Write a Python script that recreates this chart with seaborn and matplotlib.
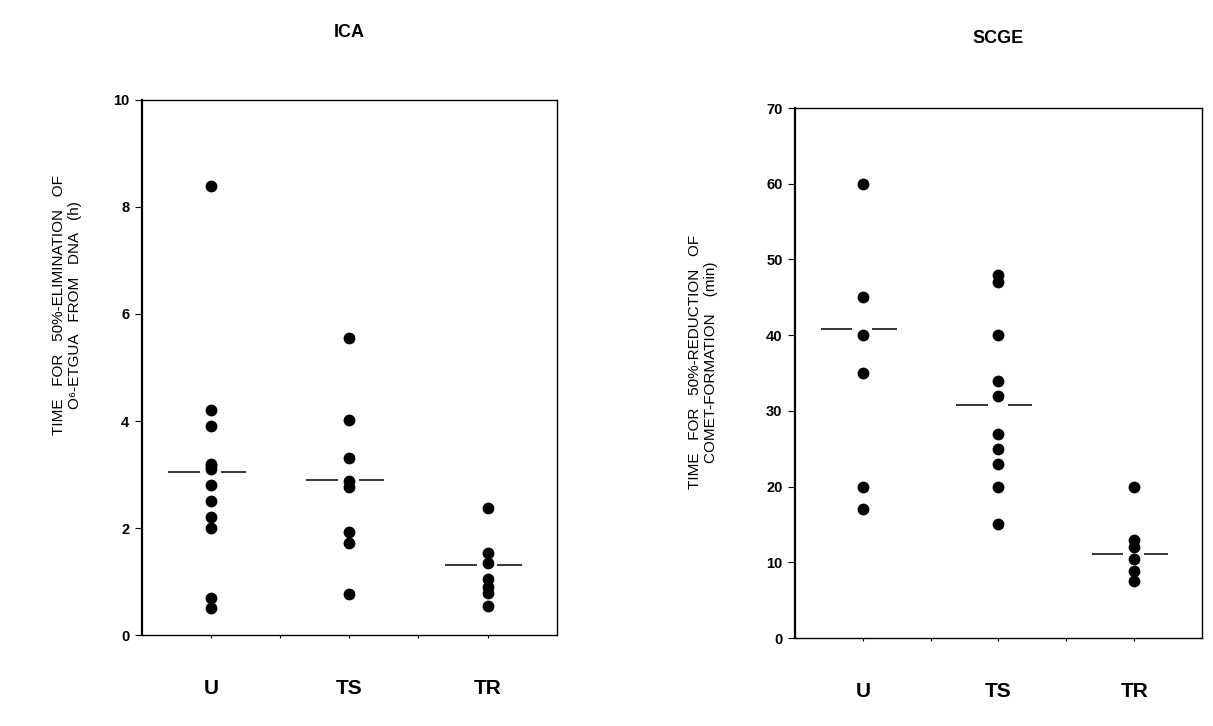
"""Half-life plots for ICA and SCGE: U, TS and TR groups with median bars.
"""
import matplotlib.pyplot as plt
import numpy as np
import pandas as pd
import seaborn as sns

# Groups on the x axis
groups = ["U", "TS", "TR"]

# ICA: time for 50% elimination of O6-EtGua from DNA (h)
ica_u = [8.4, 4.2, 3.9, 3.2, 3.15, 3.1, 2.8, 2.5, 2.2, 2.0, 0.7, 0.5]
ica_ts = [5.55, 4.02, 3.3, 2.88, 2.77, 1.92, 1.72, 0.77]
ica_tr = [2.37, 1.53, 1.35, 1.04, 0.9, 0.78, 0.55]
ica_lines = [3.05, 2.9, 1.3]

# SCGE: time for 50% reduction of comet formation (min)
scge_u = [60, 45, 40, 35, 20, 17]
scge_ts = [48, 47, 40, 34, 32, 27, 25, 23, 20, 15]
scge_tr = [20, 13, 12, 10.5, 8.8, 7.5]
scge_lines = [40.8, 30.8, 11.1]

sns.set_theme(style="white")
plt.rcParams["font.family"] = ["Liberation Sans", "DejaVu Sans"]
plt.rcParams["font.weight"] = "bold"
plt.rcParams["text.color"] = "black"
plt.rcParams["axes.labelcolor"] = "black"


def long_table(values):
    rows = []
    for group, vals in zip(groups, values):
        for v in vals:
            rows.append({"group": group, "value": v})
    return pd.DataFrame(rows)


ica = long_table([ica_u, ica_ts, ica_tr])
scge = long_table([scge_u, scge_ts, scge_tr])

fig = plt.figure(figsize=(12.13, 7.26), dpi=100)
ax1 = fig.add_axes([0.117, 0.1253, 0.342, 0.737])
ax2 = fig.add_axes([0.6554, 0.1212, 0.3355, 0.730])

panels = [
    (ax1, ica, ica_lines, (0, 10), np.arange(0, 11, 2), "ICA", 45,
     "TIME   FOR   50%-ELIMINATION   OF\nO\u2076-ETGUA   FROM   DNA   (h)", (-0.145, 0.617)),
    (ax2, scge, scge_lines, (0, 70), np.arange(0, 71, 10), "SCGE", 47,
     "TIME   FOR   50%-REDUCTION   OF\nCOMET-FORMATION    (min)", (-0.189, 0.52)),
]

for ax, data, lines, ylim, yticks, title, tpad, ylabel, label_xy in panels:
    sns.stripplot(
        data=data, x="group", y="value", order=groups, jitter=False,
        color="black", size=8.5, linewidth=0, ax=ax,
    )
    # median bars, broken around the dots
    for i, m in enumerate(lines):
        ax.hlines(m, i - 0.31, i - 0.08, color="black", lw=1.1)
        ax.hlines(m, i + 0.07, i + 0.25, color="black", lw=1.1)

    ax.set_xlim(-0.5, 2.5)
    ax.set_ylim(*ylim)
    ax.set_yticks(yticks)
    ax.set_xticks([0.5, 1.5], minor=True)
    ax.set_xlabel("")
    ax.set_ylabel(ylabel, fontsize=11, fontweight="normal", linespacing=1.15,
                  color="black")
    ax.yaxis.set_label_coords(*label_xy)
    ax.set_title(title, fontsize=13, fontweight="bold", pad=tpad, color="black")

    for side in ["left", "right", "top", "bottom"]:
        ax.spines[side].set_visible(True)
        ax.spines[side].set_color("black")
        ax.spines[side].set_linewidth(1.0)
    ax.spines["left"].set_linewidth(1.6)

    ax.tick_params(axis="y", direction="out", length=5, width=0.8,
                   labelsize=10.5, pad=4, left=True, colors="black")
    ax.tick_params(axis="x", which="both", direction="out", length=2, width=0.8,
                   labelsize=15, pad=30, bottom=True, colors="black")
    for lab in ax.get_xticklabels() + ax.get_yticklabels():
        lab.set_fontweight("bold")

fig.savefig("out.png", dpi=100, facecolor="white")
